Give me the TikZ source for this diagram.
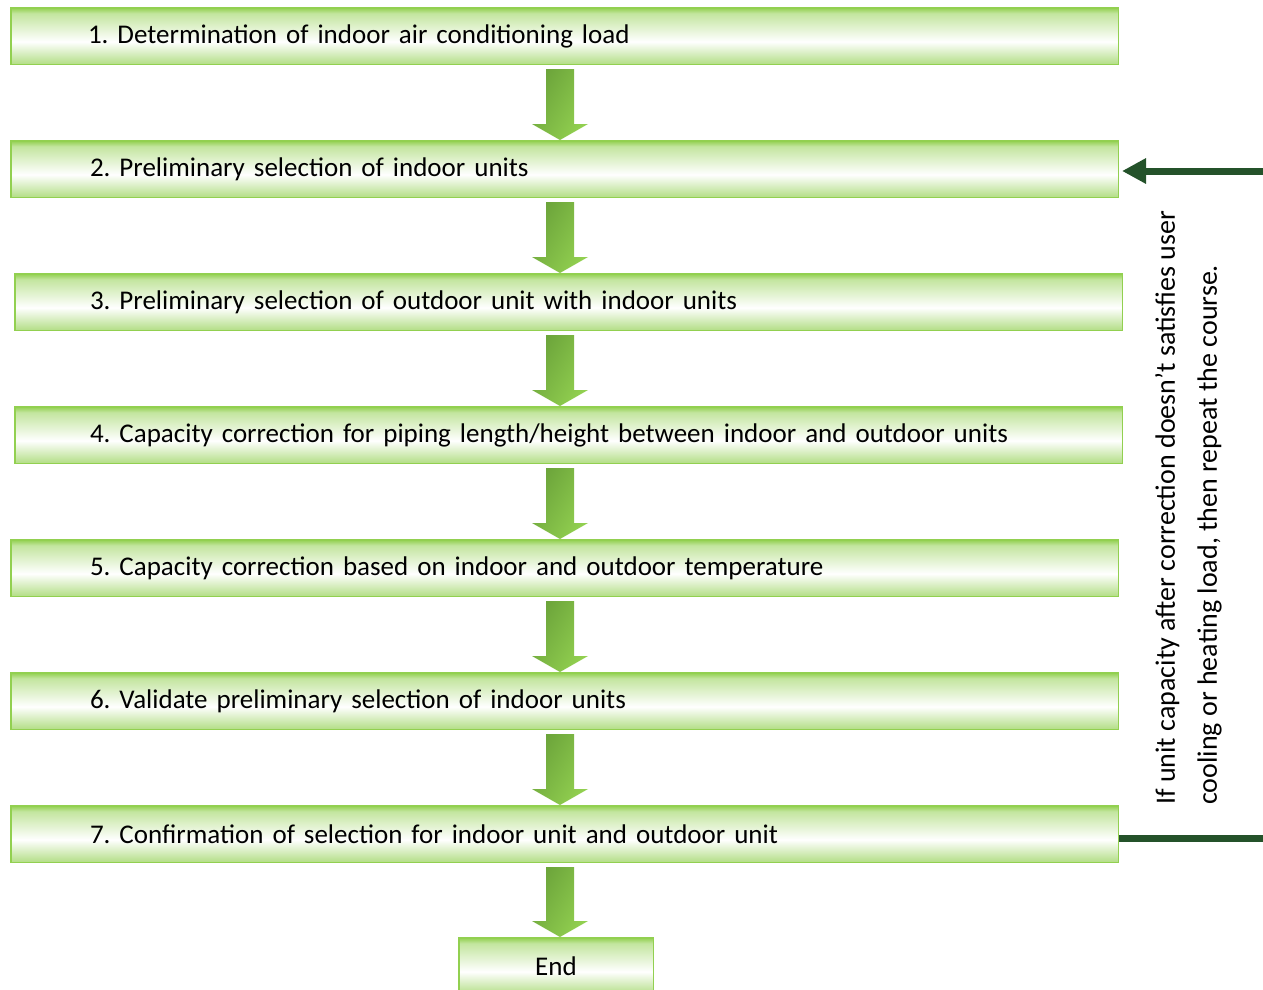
\documentclass[tikz,border=0pt]{standalone}
\usepackage{fontspec}
\setmainfont{Carlito}
\usetikzlibrary{arrows.meta, positioning, calc}
\definecolor{cLeaf}{HTML}{92D050}
\definecolor{cLeafDark}{HTML}{6BA33A}
\definecolor{cLeafPale}{HTML}{B3DE86}
\definecolor{cForest}{HTML}{24522A}
\pgfdeclareverticalshading{leafband}{100bp}{color(0bp)=(cLeafPale); color(25bp)=(cLeafPale);
  color(45bp)=(white); color(70bp)=(cLeaf!55); color(75bp)=(cLeaf); color(100bp)=(cLeaf)}

\newcommand{\flowarrow}[2]{%
  \path[flowarrow] let \p1=(#1.south), \p2=(#2.north) in
    (546pt,\y1-4pt) -- (574pt,\y1-4pt) -- (574pt,\y2+16pt) -- (588pt,\y2+16pt)
    -- (560pt,\y2) -- (532pt,\y2+16pt) -- (546pt,\y2+16pt) -- cycle;}

\begin{document}
\begin{tikzpicture}[
  x=1pt, y=-1pt,
  node distance=75pt,
  every node/.style={font=\fontsize{27}{32}\selectfont\frenchspacing},
  stepbox/.style={rectangle, draw=cLeaf, line width=1.5pt, shading=leafband,
                  minimum width=1107.5pt, minimum height=56.5pt,
                  text width=949pt, align=left, inner sep=0pt},
  endbox/.style={stepbox, minimum width=194.5pt, text width=194.5pt, align=center},
  flowarrow/.style={left color=cLeafDark, right color=cLeaf, shading angle=60},
  feedline/.style={draw=cForest, line width=7pt},
  note/.style={font=\fontsize{28}{42}\selectfont, align=left, inner sep=0pt},
]
\clip (0,0) rectangle (1263,989);

% Steps
\node[stepbox, text width=953pt] (s1) at (564.5,36)
  {1. Determination of indoor air conditioning load};
\node[stepbox, below=of s1] (s2)
  {2. Preliminary selection of indoor units};
\node[stepbox, below=of s2, xshift=4pt, text width=957pt] (s3)
  {3. Preliminary selection of outdoor unit with indoor units};
\node[stepbox, below=of s3, text width=957pt] (s4)
  {4. Capacity correction for piping length/height between indoor and outdoor units};
\node[stepbox, below=of s4, xshift=-4pt] (s5)
  {5. Capacity correction based on indoor and outdoor temperature};
\node[stepbox, below=of s5] (s6)
  {6. Validate preliminary selection of indoor units};
\node[stepbox, below=of s6] (s7)
  {7. Confirmation of selection for indoor unit and outdoor unit};
\node[endbox, below=74pt of s7, xshift=-8.5pt] (fin) {End};

% Arrows
\flowarrow{s1}{s2}
\flowarrow{s2}{s3}
\flowarrow{s3}{s4}
\flowarrow{s4}{s5}
\flowarrow{s5}{s6}
\flowarrow{s6}{s7}
\flowarrow{s7}{fin}

% Feedback
\coordinate (rtop) at (1270,171);
\coordinate (rbot) at (1270,838);
\draw[feedline] (s7.east |- rbot) -- (rbot);
\draw[feedline, -{Triangle[length=24pt, width=24pt]}] (rtop) -- ([xshift=3pt]s2.east |- rtop);

\node[note, rotate=90, anchor=north west] (remark) at (1155,805)
  {If unit capacity after correction doesn’t satisfies user\\
   cooling or heating load, then repeat the course.};

\end{tikzpicture}
\end{document}
